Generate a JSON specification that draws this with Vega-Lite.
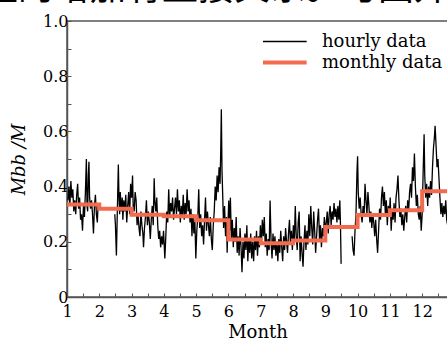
{
  "$schema": "https://vega.github.io/schema/vega-lite/v6.json",
  "width": 381,
  "height": 276,
  "autosize": "none",
  "padding": {"left": 67, "top": 21, "right": 0, "bottom": 43},
  "background": "white",
  "title": {
    "text": "量的增加有直接关系。与国外观测数",
    "font": "Noto Sans CJK SC",
    "fontSize": 36,
    "fontWeight": "normal",
    "color": "black",
    "anchor": "start",
    "frame": "group",
    "baseline": "alphabetic",
    "offset": 0,
    "dx": -85,
    "dy": 23
  },
  "datasets": {
    "hourly": [
      {"month":1.03,"value":0.35,"seg":"a"},{"month":1.06,"value":0.40,"seg":"a"},{"month":1.09,"value":0.33,"seg":"a"},{"month":1.12,"value":0.42,"seg":"a"},{"month":1.15,"value":0.36,"seg":"a"},{"month":1.18,"value":0.39,"seg":"a"},{"month":1.21,"value":0.31,"seg":"a"},{"month":1.24,"value":0.35,"seg":"a"},{"month":1.27,"value":0.30,"seg":"a"},{"month":1.30,"value":0.37,"seg":"a"},{"month":1.33,"value":0.41,"seg":"a"},{"month":1.36,"value":0.32,"seg":"a"},{"month":1.39,"value":0.36,"seg":"a"},{"month":1.42,"value":0.28,"seg":"a"},{"month":1.45,"value":0.30,"seg":"a"},{"month":1.48,"value":0.24,"seg":"a"},{"month":1.51,"value":0.33,"seg":"a"},{"month":1.54,"value":0.29,"seg":"a"},{"month":1.57,"value":0.38,"seg":"a"},{"month":1.60,"value":0.50,"seg":"a"},{"month":1.62,"value":0.33,"seg":"a"},{"month":1.64,"value":0.31,"seg":"a"},{"month":1.66,"value":0.44,"seg":"a"},{"month":1.68,"value":0.49,"seg":"a"},{"month":1.70,"value":0.36,"seg":"a"},{"month":1.73,"value":0.32,"seg":"a"},{"month":1.76,"value":0.35,"seg":"a"},{"month":1.79,"value":0.30,"seg":"a"},{"month":1.82,"value":0.23,"seg":"a"},{"month":1.85,"value":0.33,"seg":"a"},{"month":1.88,"value":0.37,"seg":"a"},{"month":1.91,"value":0.30,"seg":"a"},{"month":1.94,"value":0.27,"seg":"a"},{"month":1.96,"value":0.33,"seg":"a"},
      {"month":2.48,"value":0.30,"seg":"b"},{"month":2.50,"value":0.26,"seg":"b"},{"month":2.53,"value":0.15,"seg":"b"},{"month":2.56,"value":0.32,"seg":"b"},{"month":2.59,"value":0.48,"seg":"b"},{"month":2.61,"value":0.36,"seg":"b"},{"month":2.63,"value":0.30,"seg":"b"},{"month":2.65,"value":0.38,"seg":"b"},{"month":2.68,"value":0.31,"seg":"b"},{"month":2.71,"value":0.36,"seg":"b"},{"month":2.73,"value":0.28,"seg":"b"},{"month":2.76,"value":0.35,"seg":"b"},{"month":2.79,"value":0.31,"seg":"b"},{"month":2.82,"value":0.37,"seg":"b"},{"month":2.85,"value":0.27,"seg":"b"},{"month":2.88,"value":0.33,"seg":"b"},{"month":2.91,"value":0.38,"seg":"b"},{"month":2.94,"value":0.30,"seg":"b"},{"month":2.97,"value":0.41,"seg":"b"},{"month":3.00,"value":0.36,"seg":"b"},{"month":3.03,"value":0.44,"seg":"b"},{"month":3.05,"value":0.33,"seg":"b"},{"month":3.08,"value":0.31,"seg":"b"},{"month":3.11,"value":0.38,"seg":"b"},{"month":3.14,"value":0.35,"seg":"b"},{"month":3.17,"value":0.26,"seg":"b"},{"month":3.20,"value":0.30,"seg":"b"},{"month":3.23,"value":0.25,"seg":"b"},{"month":3.26,"value":0.22,"seg":"b"},{"month":3.29,"value":0.31,"seg":"b"},{"month":3.32,"value":0.26,"seg":"b"},{"month":3.35,"value":0.23,"seg":"b"},{"month":3.37,"value":0.18,"seg":"b"},{"month":3.40,"value":0.25,"seg":"b"},{"month":3.43,"value":0.29,"seg":"b"},{"month":3.46,"value":0.35,"seg":"b"},{"month":3.49,"value":0.26,"seg":"b"},{"month":3.52,"value":0.31,"seg":"b"},{"month":3.55,"value":0.27,"seg":"b"},{"month":3.58,"value":0.21,"seg":"b"},{"month":3.61,"value":0.28,"seg":"b"},{"month":3.64,"value":0.33,"seg":"b"},{"month":3.67,"value":0.26,"seg":"b"},{"month":3.70,"value":0.43,"seg":"b"},{"month":3.72,"value":0.35,"seg":"b"},{"month":3.75,"value":0.31,"seg":"b"},{"month":3.78,"value":0.36,"seg":"b"},{"month":3.81,"value":0.26,"seg":"b"},{"month":3.84,"value":0.21,"seg":"b"},{"month":3.87,"value":0.24,"seg":"b"},{"month":3.90,"value":0.18,"seg":"b"},{"month":3.93,"value":0.22,"seg":"b"},{"month":3.96,"value":0.19,"seg":"b"},{"month":3.99,"value":0.24,"seg":"b"},{"month":4.03,"value":0.14,"seg":"b"},{"month":4.06,"value":0.22,"seg":"b"},{"month":4.09,"value":0.31,"seg":"b"},{"month":4.12,"value":0.27,"seg":"b"},{"month":4.15,"value":0.39,"seg":"b"},{"month":4.18,"value":0.29,"seg":"b"},{"month":4.21,"value":0.34,"seg":"b"},{"month":4.24,"value":0.31,"seg":"b"},{"month":4.27,"value":0.36,"seg":"b"},{"month":4.30,"value":0.28,"seg":"b"},{"month":4.33,"value":0.32,"seg":"b"},{"month":4.36,"value":0.36,"seg":"b"},{"month":4.39,"value":0.30,"seg":"b"},{"month":4.42,"value":0.39,"seg":"b"},{"month":4.45,"value":0.31,"seg":"b"},{"month":4.48,"value":0.35,"seg":"b"},{"month":4.51,"value":0.27,"seg":"b"},{"month":4.54,"value":0.33,"seg":"b"},{"month":4.57,"value":0.29,"seg":"b"},{"month":4.60,"value":0.37,"seg":"b"},{"month":4.63,"value":0.28,"seg":"b"},{"month":4.66,"value":0.34,"seg":"b"},{"month":4.69,"value":0.30,"seg":"b"},{"month":4.72,"value":0.39,"seg":"b"},{"month":4.75,"value":0.31,"seg":"b"},{"month":4.78,"value":0.35,"seg":"b"},{"month":4.81,"value":0.27,"seg":"b"},{"month":4.84,"value":0.32,"seg":"b"},{"month":4.87,"value":0.22,"seg":"b"},{"month":4.90,"value":0.30,"seg":"b"},{"month":4.93,"value":0.23,"seg":"b"},{"month":4.96,"value":0.28,"seg":"b"},{"month":4.99,"value":0.14,"seg":"b"},{"month":5.02,"value":0.24,"seg":"b"},{"month":5.05,"value":0.29,"seg":"b"},{"month":5.08,"value":0.39,"seg":"b"},{"month":5.11,"value":0.25,"seg":"b"},{"month":5.14,"value":0.30,"seg":"b"},{"month":5.17,"value":0.22,"seg":"b"},{"month":5.20,"value":0.26,"seg":"b"},{"month":5.23,"value":0.19,"seg":"b"},{"month":5.26,"value":0.28,"seg":"b"},{"month":5.29,"value":0.36,"seg":"b"},{"month":5.32,"value":0.24,"seg":"b"},{"month":5.35,"value":0.31,"seg":"b"},{"month":5.38,"value":0.26,"seg":"b"},{"month":5.41,"value":0.22,"seg":"b"},{"month":5.44,"value":0.29,"seg":"b"},{"month":5.47,"value":0.21,"seg":"b"},{"month":5.50,"value":0.17,"seg":"b"},{"month":5.53,"value":0.26,"seg":"b"},{"month":5.56,"value":0.31,"seg":"b"},{"month":5.59,"value":0.40,"seg":"b"},{"month":5.62,"value":0.35,"seg":"b"},{"month":5.65,"value":0.44,"seg":"b"},{"month":5.68,"value":0.38,"seg":"b"},{"month":5.71,"value":0.47,"seg":"b"},{"month":5.74,"value":0.41,"seg":"b"},{"month":5.76,"value":0.52,"seg":"b"},{"month":5.78,"value":0.68,"seg":"b"},{"month":5.80,"value":0.46,"seg":"b"},{"month":5.82,"value":0.38,"seg":"b"},{"month":5.85,"value":0.25,"seg":"b"},{"month":5.88,"value":0.33,"seg":"b"},{"month":5.91,"value":0.22,"seg":"b"},{"month":5.94,"value":0.29,"seg":"b"},{"month":5.96,"value":0.16,"seg":"b"},{"month":5.98,"value":0.25,"seg":"b"},{"month":6.01,"value":0.35,"seg":"b"},{"month":6.04,"value":0.24,"seg":"b"},{"month":6.06,"value":0.36,"seg":"b"},{"month":6.09,"value":0.21,"seg":"b"},{"month":6.12,"value":0.28,"seg":"b"},{"month":6.15,"value":0.18,"seg":"b"},{"month":6.18,"value":0.25,"seg":"b"},{"month":6.21,"value":0.20,"seg":"b"},{"month":6.24,"value":0.29,"seg":"b"},{"month":6.27,"value":0.16,"seg":"b"},{"month":6.30,"value":0.22,"seg":"b"},{"month":6.33,"value":0.15,"seg":"b"},{"month":6.36,"value":0.25,"seg":"b"},{"month":6.39,"value":0.18,"seg":"b"},{"month":6.42,"value":0.09,"seg":"b"},{"month":6.45,"value":0.20,"seg":"b"},{"month":6.48,"value":0.14,"seg":"b"},{"month":6.51,"value":0.23,"seg":"b"},{"month":6.54,"value":0.17,"seg":"b"},{"month":6.57,"value":0.26,"seg":"b"},{"month":6.60,"value":0.13,"seg":"b"},{"month":6.63,"value":0.21,"seg":"b"},{"month":6.66,"value":0.16,"seg":"b"},{"month":6.69,"value":0.23,"seg":"b"},{"month":6.72,"value":0.14,"seg":"b"},{"month":6.75,"value":0.20,"seg":"b"},{"month":6.78,"value":0.13,"seg":"b"},{"month":6.81,"value":0.22,"seg":"b"},{"month":6.84,"value":0.17,"seg":"b"},{"month":6.87,"value":0.24,"seg":"b"},{"month":6.90,"value":0.15,"seg":"b"},{"month":6.93,"value":0.22,"seg":"b"},{"month":6.96,"value":0.18,"seg":"b"},{"month":6.99,"value":0.26,"seg":"b"},{"month":7.02,"value":0.19,"seg":"b"},{"month":7.05,"value":0.28,"seg":"b"},{"month":7.08,"value":0.22,"seg":"b"},{"month":7.11,"value":0.29,"seg":"b"},{"month":7.14,"value":0.18,"seg":"b"},{"month":7.17,"value":0.23,"seg":"b"},{"month":7.20,"value":0.15,"seg":"b"},{"month":7.23,"value":0.21,"seg":"b"},{"month":7.26,"value":0.17,"seg":"b"},{"month":7.29,"value":0.35,"seg":"b"},{"month":7.32,"value":0.20,"seg":"b"},{"month":7.35,"value":0.14,"seg":"b"},{"month":7.38,"value":0.23,"seg":"b"},{"month":7.41,"value":0.17,"seg":"b"},{"month":7.44,"value":0.22,"seg":"b"},{"month":7.47,"value":0.15,"seg":"b"},{"month":7.50,"value":0.20,"seg":"b"},{"month":7.53,"value":0.13,"seg":"b"},{"month":7.56,"value":0.21,"seg":"b"},{"month":7.59,"value":0.16,"seg":"b"},{"month":7.62,"value":0.24,"seg":"b"},{"month":7.65,"value":0.18,"seg":"b"},{"month":7.68,"value":0.13,"seg":"b"},{"month":7.71,"value":0.22,"seg":"b"},{"month":7.74,"value":0.17,"seg":"b"},{"month":7.77,"value":0.25,"seg":"b"},{"month":7.80,"value":0.20,"seg":"b"},{"month":7.83,"value":0.16,"seg":"b"},{"month":7.86,"value":0.23,"seg":"b"},{"month":7.89,"value":0.28,"seg":"b"},{"month":7.92,"value":0.19,"seg":"b"},{"month":7.95,"value":0.24,"seg":"b"},{"month":7.98,"value":0.17,"seg":"b"},{"month":8.01,"value":0.26,"seg":"b"},{"month":8.04,"value":0.20,"seg":"b"},{"month":8.07,"value":0.33,"seg":"b"},{"month":8.10,"value":0.22,"seg":"b"},{"month":8.13,"value":0.17,"seg":"b"},{"month":8.16,"value":0.27,"seg":"b"},{"month":8.19,"value":0.31,"seg":"b"},{"month":8.22,"value":0.13,"seg":"b"},{"month":8.25,"value":0.22,"seg":"b"},{"month":8.28,"value":0.16,"seg":"b"},{"month":8.31,"value":0.11,"seg":"b"},{"month":8.34,"value":0.20,"seg":"b"},{"month":8.37,"value":0.26,"seg":"b"},{"month":8.40,"value":0.17,"seg":"b"},{"month":8.43,"value":0.24,"seg":"b"},{"month":8.46,"value":0.19,"seg":"b"},{"month":8.49,"value":0.30,"seg":"b"},{"month":8.52,"value":0.22,"seg":"b"},{"month":8.55,"value":0.33,"seg":"b"},{"month":8.58,"value":0.25,"seg":"b"},{"month":8.61,"value":0.19,"seg":"b"},{"month":8.64,"value":0.31,"seg":"b"},{"month":8.67,"value":0.24,"seg":"b"},{"month":8.70,"value":0.16,"seg":"b"},{"month":8.73,"value":0.22,"seg":"b"},{"month":8.76,"value":0.28,"seg":"b"},{"month":8.79,"value":0.32,"seg":"b"},{"month":8.82,"value":0.21,"seg":"b"},{"month":8.85,"value":0.26,"seg":"b"},{"month":8.88,"value":0.18,"seg":"b"},{"month":8.91,"value":0.25,"seg":"b"},{"month":8.94,"value":0.22,"seg":"b"},{"month":8.97,"value":0.29,"seg":"b"},{"month":9.00,"value":0.24,"seg":"b"},{"month":9.03,"value":0.27,"seg":"b"},{"month":9.06,"value":0.31,"seg":"b"},{"month":9.09,"value":0.23,"seg":"b"},{"month":9.12,"value":0.30,"seg":"b"},{"month":9.15,"value":0.33,"seg":"b"},{"month":9.18,"value":0.26,"seg":"b"},{"month":9.21,"value":0.31,"seg":"b"},{"month":9.24,"value":0.28,"seg":"b"},{"month":9.27,"value":0.34,"seg":"b"},{"month":9.30,"value":0.29,"seg":"b"},{"month":9.33,"value":0.32,"seg":"b"},{"month":9.36,"value":0.27,"seg":"b"},{"month":9.39,"value":0.33,"seg":"b"},{"month":9.42,"value":0.28,"seg":"b"},{"month":9.45,"value":0.35,"seg":"b"},{"month":9.47,"value":0.26,"seg":"b"},{"month":9.49,"value":0.12,"seg":"b"},
      {"month":9.83,"value":0.22,"seg":"c"},{"month":9.86,"value":0.17,"seg":"c"},{"month":9.89,"value":0.15,"seg":"c"},{"month":9.92,"value":0.24,"seg":"c"},{"month":9.95,"value":0.30,"seg":"c"},{"month":9.98,"value":0.45,"seg":"c"},{"month":10.00,"value":0.51,"seg":"c"},{"month":10.02,"value":0.38,"seg":"c"},{"month":10.05,"value":0.32,"seg":"c"},{"month":10.08,"value":0.36,"seg":"c"},{"month":10.11,"value":0.30,"seg":"c"},{"month":10.14,"value":0.27,"seg":"c"},{"month":10.17,"value":0.33,"seg":"c"},{"month":10.20,"value":0.29,"seg":"c"},{"month":10.23,"value":0.41,"seg":"c"},{"month":10.26,"value":0.35,"seg":"c"},{"month":10.29,"value":0.30,"seg":"c"},{"month":10.32,"value":0.38,"seg":"c"},{"month":10.35,"value":0.33,"seg":"c"},{"month":10.38,"value":0.27,"seg":"c"},{"month":10.41,"value":0.31,"seg":"c"},{"month":10.44,"value":0.25,"seg":"c"},{"month":10.47,"value":0.30,"seg":"c"},{"month":10.50,"value":0.27,"seg":"c"},{"month":10.53,"value":0.22,"seg":"c"},{"month":10.56,"value":0.28,"seg":"c"},{"month":10.59,"value":0.21,"seg":"c"},{"month":10.62,"value":0.16,"seg":"c"},{"month":10.65,"value":0.24,"seg":"c"},{"month":10.68,"value":0.32,"seg":"c"},{"month":10.71,"value":0.28,"seg":"c"},{"month":10.74,"value":0.36,"seg":"c"},{"month":10.77,"value":0.40,"seg":"c"},{"month":10.80,"value":0.33,"seg":"c"},{"month":10.83,"value":0.38,"seg":"c"},{"month":10.86,"value":0.30,"seg":"c"},{"month":10.89,"value":0.35,"seg":"c"},{"month":10.92,"value":0.26,"seg":"c"},{"month":10.95,"value":0.33,"seg":"c"},{"month":10.98,"value":0.29,"seg":"c"},{"month":11.01,"value":0.36,"seg":"c"},{"month":11.04,"value":0.24,"seg":"c"},{"month":11.07,"value":0.31,"seg":"c"},{"month":11.10,"value":0.28,"seg":"c"},{"month":11.13,"value":0.34,"seg":"c"},{"month":11.16,"value":0.27,"seg":"c"},{"month":11.19,"value":0.36,"seg":"c"},{"month":11.22,"value":0.39,"seg":"c"},{"month":11.25,"value":0.44,"seg":"c"},{"month":11.28,"value":0.35,"seg":"c"},{"month":11.31,"value":0.29,"seg":"c"},{"month":11.34,"value":0.32,"seg":"c"},{"month":11.37,"value":0.26,"seg":"c"},{"month":11.40,"value":0.30,"seg":"c"},{"month":11.43,"value":0.24,"seg":"c"},{"month":11.46,"value":0.29,"seg":"c"},{"month":11.49,"value":0.33,"seg":"c"},{"month":11.52,"value":0.27,"seg":"c"},{"month":11.55,"value":0.35,"seg":"c"},{"month":11.58,"value":0.31,"seg":"c"},{"month":11.61,"value":0.38,"seg":"c"},{"month":11.64,"value":0.41,"seg":"c"},{"month":11.67,"value":0.36,"seg":"c"},{"month":11.70,"value":0.47,"seg":"c"},{"month":11.73,"value":0.42,"seg":"c"},{"month":11.76,"value":0.52,"seg":"c"},{"month":11.79,"value":0.40,"seg":"c"},{"month":11.82,"value":0.33,"seg":"c"},{"month":11.85,"value":0.37,"seg":"c"},{"month":11.88,"value":0.30,"seg":"c"},{"month":11.91,"value":0.28,"seg":"c"},{"month":11.94,"value":0.33,"seg":"c"},{"month":11.97,"value":0.24,"seg":"c"},{"month":12.00,"value":0.30,"seg":"c"},{"month":12.03,"value":0.45,"seg":"c"},{"month":12.06,"value":0.59,"seg":"c"},{"month":12.08,"value":0.44,"seg":"c"},{"month":12.11,"value":0.36,"seg":"c"},{"month":12.14,"value":0.41,"seg":"c"},{"month":12.17,"value":0.33,"seg":"c"},{"month":12.20,"value":0.40,"seg":"c"},{"month":12.23,"value":0.36,"seg":"c"},{"month":12.26,"value":0.42,"seg":"c"},{"month":12.29,"value":0.37,"seg":"c"},{"month":12.32,"value":0.47,"seg":"c"},{"month":12.35,"value":0.54,"seg":"c"},{"month":12.38,"value":0.58,"seg":"c"},{"month":12.40,"value":0.62,"seg":"c"},{"month":12.43,"value":0.55,"seg":"c"},{"month":12.46,"value":0.47,"seg":"c"},{"month":12.49,"value":0.50,"seg":"c"},{"month":12.52,"value":0.43,"seg":"c"},{"month":12.55,"value":0.36,"seg":"c"},{"month":12.58,"value":0.30,"seg":"c"},{"month":12.61,"value":0.34,"seg":"c"},{"month":12.64,"value":0.29,"seg":"c"},{"month":12.67,"value":0.33,"seg":"c"},{"month":12.70,"value":0.30,"seg":"c"},{"month":12.73,"value":0.35,"seg":"c"},{"month":12.76,"value":0.28,"seg":"c"},{"month":12.79,"value":0.26,"seg":"c"}
    ],
    "monthly": [
      {"month":1,"value":0.335},{"month":2,"value":0.32},{"month":3,"value":0.298},{"month":4,"value":0.293},{"month":5,"value":0.278},{"month":6,"value":0.208},{"month":7,"value":0.195},{"month":8,"value":0.205},{"month":9,"value":0.254},{"month":10,"value":0.297},{"month":11,"value":0.314},{"month":12,"value":0.383},{"month":13,"value":0.383}
    ]
  },
  "encoding": {
    "x": {
      "field": "month",
      "type": "quantitative",
      "scale": {"domain": [1, 12.8], "nice": false, "zero": false},
      "axis": {
        "title": "Month",
        "values": [1,1.5,2,2.5,3,3.5,4,4.5,5,5.5,6,6.5,7,7.5,8,8.5,9,9.5,10,10.5,11,11.5,12,12.5],
        "labelExpr": "datum.value % 1 === 0 ? format(datum.value, 'd') : ''",
        "labelOverlap": false,
        "labelFlush": false,
        "labelPadding": 10,
        "titlePadding": 4
      }
    },
    "y": {
      "field": "value",
      "type": "quantitative",
      "scale": {"domain": [0, 1], "nice": false},
      "axis": {
        "title": "Mbb /M",
        "titleFontStyle": "italic",
        "titleFont": "DejaVu Serif",
        "values": [0,0.1,0.2,0.3,0.4,0.5,0.6,0.7,0.8,0.9,1.0],
        "labelExpr": "datum.value === 0 ? '0' : (round(datum.value * 10) % 2 === 0 ? format(datum.value, '.1f') : '')",
        "labelOverlap": false,
        "labelFlush": false,
        "labelPadding": 3,
        "titlePadding": 14
      }
    }
  },
  "layer": [
    {
      "data": {"name": "hourly"},
      "transform": [{"calculate": "'hourly data'", "as": "series"}],
      "mark": {"type": "line", "strokeWidth": 1.3, "clip": true},
      "encoding": {
        "detail": {"field": "seg", "type": "nominal"},
        "color": {
          "field": "series",
          "type": "nominal",
          "scale": {"domain": ["hourly data", "monthly data"], "range": ["#000000", "#f26b4f"]},
          "legend": {
            "title": null,
            "orient": "none",
            "legendX": 196,
            "legendY": 10,
            "symbolType": "stroke",
            "symbolSize": 4800,
            "clipHeight": 21,
            "rowPadding": 0,
            "padding": 0,
            "labelFont": "DejaVu Serif",
            "labelFontSize": 18,
            "labelColor": "black",
            "labelOffset": 41,
            "encode": {"symbols": {"update": {"strokeWidth": {"signal": "datum.value === 'monthly data' ? 4 : 1.3"}}}}
          }
        }
      }
    },
    {
      "data": {"name": "monthly"},
      "transform": [{"calculate": "'monthly data'", "as": "series"}],
      "mark": {"type": "line", "strokeWidth": 4, "interpolate": "step-after", "clip": true},
      "encoding": {
        "color": {"field": "series", "type": "nominal"}
      }
    }
  ],
  "config": {
    "view": {"stroke": "#555555", "strokeWidth": 1.5},
    "axis": {
      "grid": false,
      "domainColor": "#555555",
      "domainWidth": 1.5,
      "tickColor": "#555555",
      "tickWidth": 1,
      "tickSize": -4,
      "labelFont": "DejaVu Serif",
      "labelFontSize": 16,
      "labelColor": "black",
      "titleFont": "DejaVu Serif",
      "titleFontSize": 18,
      "titleFontWeight": "normal",
      "titleColor": "black"
    }
  }
}
